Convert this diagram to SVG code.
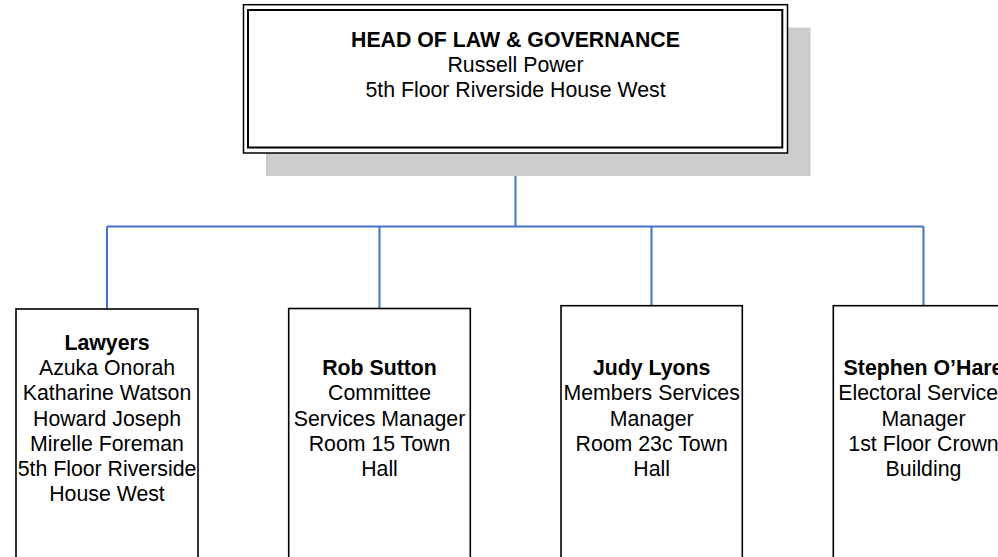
<svg xmlns="http://www.w3.org/2000/svg" width="998" height="557" viewBox="0 0 998 557">
<style>
  .t { font-family: "Liberation Sans", Arial, sans-serif; font-size: 21.3px; fill: #000; text-anchor: middle; }
  .b { font-weight: bold; }
  .box { fill: #fff; stroke: #000; stroke-width: 1.6; }
  .conn { fill: none; stroke: #4472C4; stroke-width: 2; }
</style>
<rect width="998" height="557" fill="#fff"/>
<g id="connectors">
  <path class="conn" d="M515.5 153 V226.5 M107 226.5 H923.5 M107 226.5 V309 M379.5 226.5 V308.5 M651.5 226.5 V305.7 M923.5 226.5 V305.7"/>
</g>
<g id="head">
  <rect x="266" y="27.5" width="544.5" height="148.5" fill="#cccccc"/>
  <rect x="243.5" y="4.7" width="544" height="148.3" fill="#fff" stroke="#000" stroke-width="1.5"/>
  <rect x="248" y="10" width="534.3" height="137.5" fill="none" stroke="#000" stroke-width="2"/>
  <text class="t b" x="515.5" y="47">HEAD OF LAW &amp; GOVERNANCE</text>
  <text class="t" x="515.5" y="72">Russell Power</text>
  <text class="t" x="515.5" y="97">5th Floor Riverside House West</text>
</g>
<g id="lawyers">
  <rect class="box" x="16" y="309" width="182" height="270"/>
  <text class="t b" x="107" y="349.6">Lawyers</text>
  <text class="t" x="107" y="374.9">Azuka Onorah</text>
  <text class="t" x="107" y="400.2">Katharine Watson</text>
  <text class="t" x="107" y="425.5">Howard Joseph</text>
  <text class="t" x="107" y="450.8">Mirelle Foreman</text>
  <text class="t" x="107" y="476.1">5th Floor Riverside</text>
  <text class="t" x="107" y="501.4">House West</text>
</g>
<g id="rob-sutton">
  <rect class="box" x="288.7" y="308.5" width="181.6" height="270"/>
  <text class="t b" x="379.5" y="375">Rob Sutton</text>
  <text class="t" x="379.5" y="400.3">Committee</text>
  <text class="t" x="379.5" y="425.6">Services Manager</text>
  <text class="t" x="379.5" y="450.9">Room 15 Town</text>
  <text class="t" x="379.5" y="476.2">Hall</text>
</g>
<g id="judy-lyons">
  <rect class="box" x="561" y="305.7" width="181.3" height="270"/>
  <text class="t b" x="651.7" y="375">Judy Lyons</text>
  <text class="t" x="651.7" y="400.3">Members Services</text>
  <text class="t" x="651.7" y="425.6">Manager</text>
  <text class="t" x="651.7" y="450.9">Room 23c Town</text>
  <text class="t" x="651.7" y="476.2">Hall</text>
</g>
<g id="stephen-ohare">
  <rect class="box" x="833.3" y="305.7" width="181.3" height="270"/>
  <text class="t b" x="923.5" y="375">Stephen O’Hare</text>
  <text class="t" x="923.5" y="400.3">Electoral Services</text>
  <text class="t" x="923.5" y="425.6">Manager</text>
  <text class="t" x="923.5" y="450.9">1st Floor Crown</text>
  <text class="t" x="923.5" y="476.2">Building</text>
</g>
</svg>
